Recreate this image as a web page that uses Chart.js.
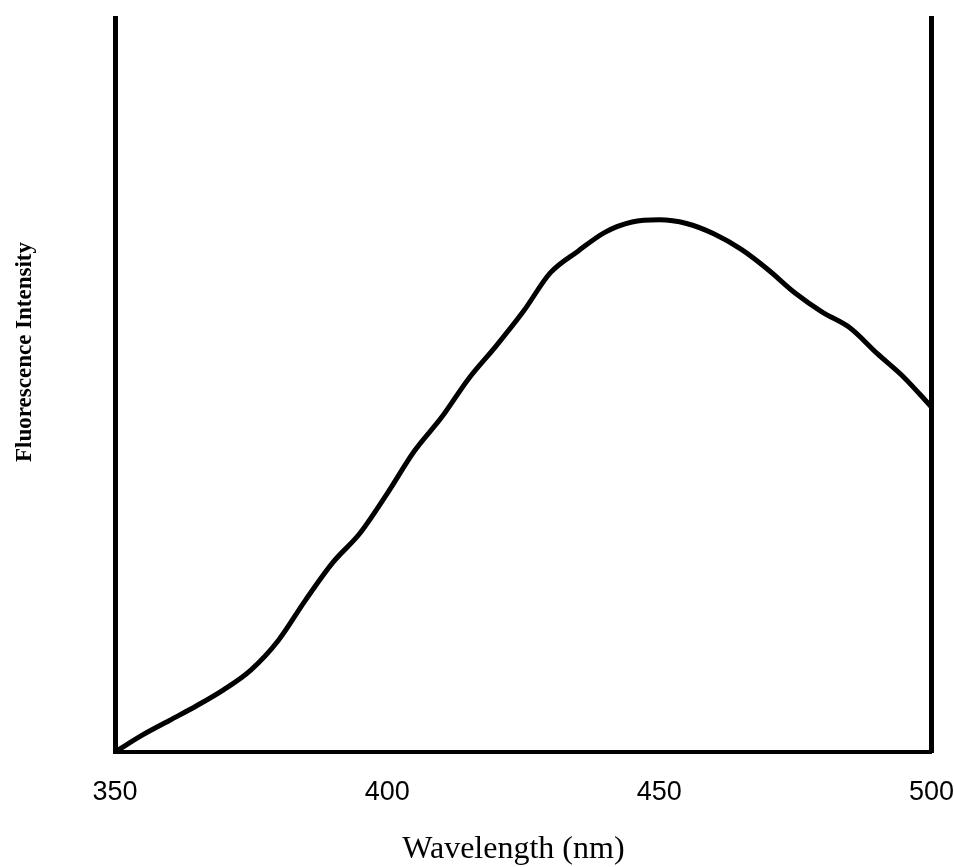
<!DOCTYPE html>
<html>
<head>
<meta charset="utf-8">
<script src="https://cdn.jsdelivr.net/npm/chart.js@4/dist/chart.umd.min.js"></script>
<style>
  html, body { margin: 0; padding: 0; background: #fff; }
  #wrap { width: 954px; height: 867px; }
</style>
</head>
<body>
<div id="wrap"><canvas id="spectrum" width="954" height="867"></canvas></div>
<script>
// Emission spectrum: wavelength (nm) vs. relative fluorescence intensity
const wavelengths = [350, 355, 360, 365, 370, 375, 380, 385, 390, 395,
  400, 405, 410, 415, 420, 425, 430, 435, 440, 445,
  450, 455, 460, 465, 470, 475, 480, 485, 490, 495, 500];
const intensity = [0.0, 2.3, 4.3, 6.3, 8.5, 11.2, 15.2, 20.7, 25.8, 29.8,
  35.2, 41.0, 45.6, 50.9, 55.3, 60.0, 65.3, 68.2, 70.8, 72.2,
  72.5, 72.0, 70.6, 68.5, 65.7, 62.5, 59.9, 57.8, 54.3, 51.0, 47.0];
const xTicks = [350, 400, 450, 500];
const xTitle = 'Wavelength (nm)';
const yTitle = 'Fluorescence Intensity';

const points = wavelengths.map((w, i) => ({ x: w, y: intensity[i] }));

// Axis captions: serif wavelength caption under the axis, rotated bold intensity caption on the left
const axisCaptions = {
  id: 'axisCaptions',
  afterDraw(chart) {
    const { ctx, chartArea } = chart;
    ctx.save();
    ctx.fillStyle = '#000';
    ctx.textAlign = 'center';

    ctx.font = '32px "Liberation Serif", "Times New Roman", serif';
    ctx.textBaseline = 'alphabetic';
    ctx.fillText(xTitle, chartArea.left + chartArea.width * 0.488, chartArea.bottom + 106);

    ctx.translate(25, chartArea.top + chartArea.height * 0.455);
    ctx.rotate(-Math.PI / 2);
    ctx.font = 'bold 23px "Liberation Serif", "Times New Roman", serif';
    ctx.textBaseline = 'middle';
    ctx.fillText(yTitle, 0, 0);
    ctx.restore();
  }
};

new Chart(document.getElementById('spectrum'), {
  type: 'line',
  data: {
    datasets: [{
      data: points,
      borderColor: '#000',
      borderWidth: 5,
      pointRadius: 0,
      cubicInterpolationMode: 'monotone',
      fill: false,
      clip: 6
    }]
  },
  options: {
    responsive: false,
    animation: false,
    devicePixelRatio: 1,
    layout: { autoPadding: false, padding: { top: 18, left: 0, right: 0, bottom: 0 } },
    plugins: { legend: { display: false }, tooltip: { enabled: false } },
    scales: {
      x: {
        type: 'linear',
        min: 350,
        max: 500,
        afterFit(s) { s.height = 115; },
        afterBuildTicks(s) { s.ticks = xTicks.map(v => ({ value: v })); },
        // invisible tick marks give the gap between the axis and its labels
        grid: {
          display: true,
          drawOnChartArea: false,
          drawTicks: true,
          tickLength: 24,
          tickColor: 'rgba(0,0,0,0)'
        },
        border: { display: true, color: '#000', width: 4 },
        ticks: {
          color: '#000',
          padding: 0,
          maxRotation: 0,
          font: { family: '"Liberation Sans", Arial, sans-serif', size: 27 }
        }
      },
      y: {
        min: 0,
        max: 100,
        position: 'left',
        afterFit(s) { s.width = 115; },
        grid: { display: false, drawTicks: false },
        border: { display: true, color: '#000', width: 5 },
        ticks: { display: false }
      },
      yRight: {
        min: 0,
        max: 100,
        position: 'right',
        afterFit(s) { s.width = 22; },
        grid: { display: false, drawTicks: false },
        border: { display: true, color: '#000', width: 5 },
        ticks: { display: false }
      }
    }
  },
  plugins: [axisCaptions]
});
</script>
</body>
</html>
